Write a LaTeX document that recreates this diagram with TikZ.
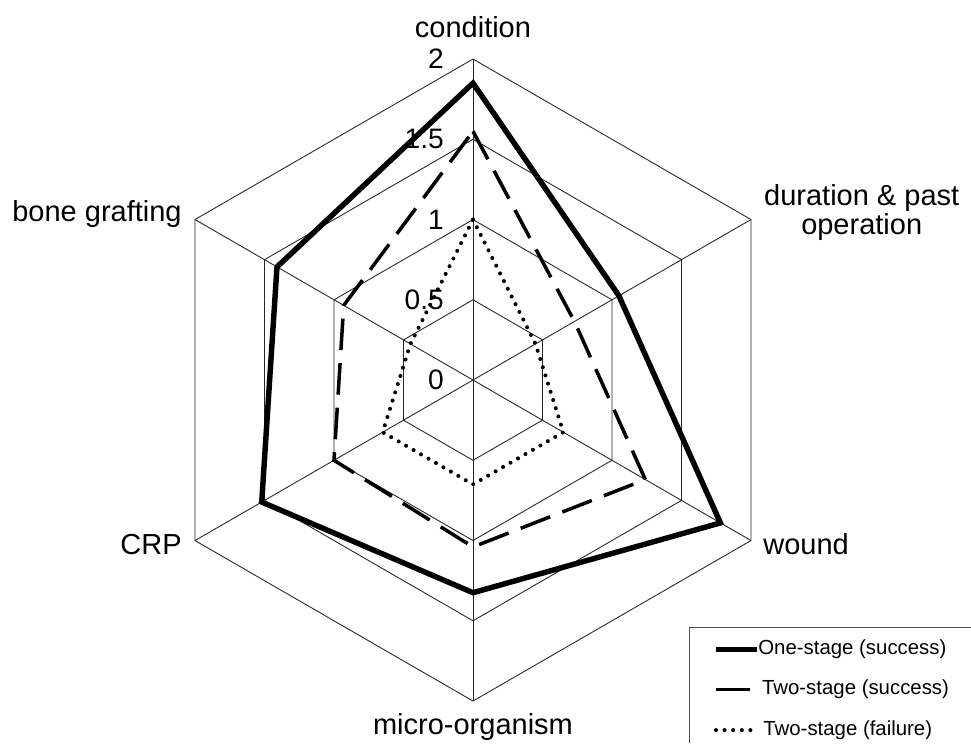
\documentclass[tikz,border=0pt]{standalone}
\usepackage{fontspec}
\setmainfont{Liberation Sans}
\usepackage{tikz}
\usetikzlibrary{positioning}

\tikzset{
  webline/.style={draw=black!85, line width=0.5pt},
  onestage/.style={line width=3.1pt},
  twostage/.style={line width=2pt, dash pattern=on 18pt off 7.4pt},
  failure/.style={line width=2.3pt, line cap=round, dash pattern=on 0pt off 4.9pt},
  axislabel/.style={font=\fontsize{16.5}{16.5}\selectfont, inner sep=0pt},
  ticklabel/.style={font=\fontsize{16}{18}\selectfont, inner sep=0pt, anchor=east},
  legendtext/.style={font=\fontsize{11.6}{14}\selectfont, inner sep=0pt, anchor=west},
  legendframe/.style={draw=black!70, line width=0.5pt},
}

\begin{document}
\begin{tikzpicture}[x=3.21cm, y=3.21cm]
  \useasboundingbox (-2.947,-2.262) rectangle (3.103,2.368);

  % web
  \foreach \r in {0.5,1,1.5,2}
    \draw[webline] (90:\r) -- (30:\r) -- (-30:\r) -- (-90:\r) -- (-150:\r) -- (150:\r) -- cycle;
  \coordinate (O) at (0,0);
  \foreach \a in {90,30,-30,-90,-150,150}
    \draw[webline] (O) -- (\a:2);

  \node[ticklabel] (t0) at (-0.18,0) {0};
  \node[ticklabel] (t1) at (-0.18,0.5) {0.5};
  \node[ticklabel] (t2) at (-0.18,1) {1};
  \node[ticklabel] (t3) at (-0.18,1.5) {1.5};
  \node[ticklabel] (t4) at (-0.18,2) {2};

  % data
  \coordinate (f1) at (90:1.0);
  \coordinate (f2) at (30:0.45);
  \coordinate (f3) at (-30:0.65);
  \coordinate (f4) at (-90:0.65);
  \coordinate (f5) at (-150:0.65);
  \coordinate (f6) at (150:0.45);
  \draw[failure] (f1) -- (f2) -- (f3) -- (f4) -- (f5) -- (f6) -- cycle;

  \coordinate (s1) at (90:1.55);
  \coordinate (s2) at (30:0.73);
  \coordinate (s3) at (-30:1.24);
  \coordinate (s4) at (-90:1.04);
  \coordinate (s5) at (-150:1.0);
  \coordinate (s6) at (150:0.93);
  \draw[twostage] (s1) -- (s2) -- (s3) -- (s4) -- (s5) -- (s6) -- cycle;

  \coordinate (o1) at (90:1.85);
  \coordinate (o2) at (30:1.05);
  \coordinate (o3) at (-30:1.78);
  \coordinate (o4) at (-90:1.325);
  \coordinate (o5) at (-150:1.52);
  \coordinate (o6) at (150:1.41);
  \draw[onestage] (o1) -- (o2) -- (o3) -- (o4) -- (o5) -- (o6) -- cycle;

  % axis labels
  \node[axislabel, anchor=base] (condition) at (0,2.135) {condition};
  \node[axislabel, align=center] (duration) at (2.422,1.047) {duration \& past\\operation};
  \node[axislabel, anchor=base west] (wound) at (1.807,-1.084) {wound};
  \node[axislabel, anchor=base] (micro) at (0,-2.206) {micro-organism};
  \node[axislabel, anchor=base east] (crp) at (-1.813,-1.090) {CRP};
  \node[axislabel, anchor=base east] (bone) at (-1.813,0.986) {bone grafting};

  % legend
  \draw[legendframe] (3.103,-1.539) -| (1.346,-2.262);
  \coordinate (l1a) at (1.514,-1.678);
  \coordinate (l1b) at (1.769,-1.678);
  \coordinate (l2a) at (1.514,-1.927);
  \coordinate (l2b) at (1.726,-1.927);
  \coordinate (l3a) at (1.514,-2.181);
  \coordinate (l3b) at (1.757,-2.181);
  \draw[onestage] (l1a) -- (l1b);
  \draw[twostage, solid] (l2a) -- (l2b);
  \draw[failure] (l3a) -- (l3b);
  \node[legendtext] (leg1) at (1.776,-1.678) {One-stage (success)};
  \node[legendtext] (leg2) at (1.799,-1.927) {Two-stage (success)};
  \node[legendtext] (leg3) at (1.807,-2.181) {Two-stage (failure)};
\end{tikzpicture}
\end{document}
